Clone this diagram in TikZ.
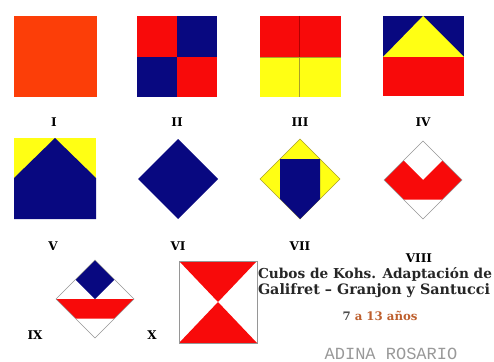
\documentclass[tikz,border=0pt]{standalone}
\usepackage{fontspec}
\setmainfont{DejaVu Serif}
\newfontfamily\monofont{Liberation Mono}
\definecolor{korange}{RGB}{252,62,8}
\definecolor{kred}{RGB}{248,10,10}
\definecolor{knavy}{RGB}{8,8,128}
\definecolor{kyellow}{RGB}{255,255,20}
\definecolor{kedge}{RGB}{150,150,150}
\definecolor{kolive}{RGB}{170,160,40}
\definecolor{kbrown}{RGB}{190,95,45}
\tikzset{
  numlabel/.style={font=\bfseries\fontsize{12}{12}\selectfont, inner sep=0pt},
  captext/.style={font=\bfseries, inner sep=0pt, text=black!85},
  grayedge/.style={draw=kedge, line width=0.5pt},
  oliveedge/.style={draw=kolive, line width=0.6pt}
}
\begin{document}
\begin{tikzpicture}[x=1pt,y=-1pt]
\clip (0,0) rectangle (494,361);
\fill[white] (0,0) rectangle (494,361);
% I
\fill[korange] (14,16) rectangle (97,97);
% II
\fill[kred] (137,16) rectangle (177,57);
\fill[knavy] (177,16) rectangle (217,57);
\fill[knavy] (137,57) rectangle (177,97);
\fill[kred] (177,57) rectangle (217,97);
% III
\fill[kred] (260,16) rectangle (341,57);
\fill[kyellow] (260,57) rectangle (341,97);
\draw[red!70!black, line width=0.5pt] (299,16) -- (299,57);
\draw[kolive, line width=0.6pt] (299,57) -- (299,97);
\draw[kolive, line width=0.5pt] (260,57) -- (341,57);
% IV
\fill[knavy] (383,16) rectangle (464,57);
\fill[kyellow] (383,57) -- (423,16) -- (464,57) -- cycle;
\fill[kred] (383,57) rectangle (464,96);
% V
\fill[kyellow] (14,138) rectangle (96,219);
\fill[knavy] (14,178) -- (55,138) -- (96,178) -- (96,219) -- (14,219) -- cycle;
% VI
\fill[knavy] (138,179) -- (178,139) -- (218,179) -- (178,219) -- cycle;
% VII
\filldraw[fill=kyellow, oliveedge] (260,179) -- (300,139) -- (340,179) -- (300,219) -- cycle;
\fill[knavy] (280,159) -- (320,159) -- (320,199) -- (300,219) -- (280,199) -- cycle;
% VIII
\fill[kred] (384,180) -- (403.5,160.5) -- (423,180) -- (442.5,160.5) -- (462,180) -- (442.5,199.5) -- (403.5,199.5) -- cycle;
\draw[grayedge] (384,180) -- (423,141) -- (462,180) -- (423,219) -- cycle;
% IX
\fill[knavy] (95,260) -- (75.5,279.5) -- (95,299) -- (114.5,279.5) -- cycle;
\fill[kred] (56,299) -- (134,299) -- (114.5,318.5) -- (75.5,318.5) -- cycle;
\draw[grayedge] (56,299) -- (95,260) -- (134,299) -- (95,338) -- cycle;
% X
\fill[kred] (179,261) -- (257,261) -- (218,302) -- cycle;
\fill[kred] (179,343) -- (257,343) -- (218,302) -- cycle;
\draw[grayedge] (179,261) rectangle (257,343);
% labels
\node[numlabel] (lI) at (54,122) {I};
\node[numlabel] (lII) at (177,122) {II};
\node[numlabel] (lIII) at (300,122) {III};
\node[numlabel] (lIV) at (423,122) {IV};
\node[numlabel] (lV) at (53,246) {V};
\node[numlabel] (lVI) at (178,246) {VI};
\node[numlabel] (lVII) at (300,246) {VII};
\node[numlabel] (lVIII) at (419,258) {VIII};
\node[numlabel] (lIX) at (35,335) {IX};
\node[numlabel] (lX) at (152,335) {X};
% caption
\node[captext] (cap1) at (375,274) {\resizebox{234pt}{!}{Cubos de Kohs. Adaptación de}};
\node[captext] (cap2) at (374,291) {\resizebox{232pt}{!}{Galifret – Granjon y Santucci}};
\node[inner sep=0pt, font=\bfseries] (age) at (380,316) {\resizebox{75pt}{!}{\textcolor{black!70}{7} \textcolor{kbrown}{a 13 años}}};
\node[inner sep=0pt, anchor=base, text=black!40, font=\monofont\fontsize{17}{17}\selectfont] (sig) at (391,359) {ADINA ROSARIO};
\end{tikzpicture}
\end{document}
